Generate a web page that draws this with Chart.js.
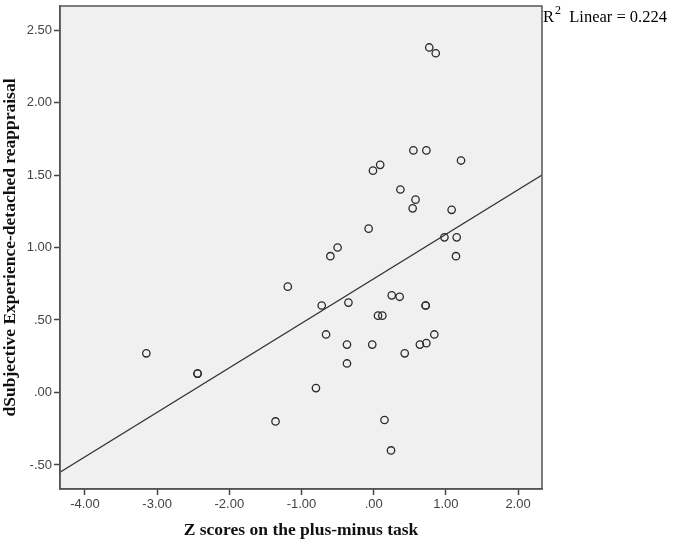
<!DOCTYPE html>
<html>
<head>
<meta charset="utf-8">
<script src="https://cdn.jsdelivr.net/npm/chart.js@4"></script>
<style>
  html, body { margin: 0; padding: 0; background: #fff; }
  #wrap { width: 675px; height: 541px; }
</style>
</head>
<body>
<div id="wrap"><canvas id="c" width="675" height="541"></canvas></div>
<script>
// z scores on the plus-minus task (x) and dSubjective reappraisal (y)
var zScores = [-3.15, -2.44, -2.44, -1.36, -1.19, -0.80, -0.72, -0.66, -0.60, -0.50,
  -0.35, -0.37, -0.37, -0.07, -0.02, -0.01, 0.06, 0.09, 0.12, 0.15,
  0.24, 0.25, 0.36, 0.37, 0.43, 0.54, 0.55, 0.58, 0.64, 0.72,
  0.72, 0.73, 0.73, 0.77, 0.84, 0.86, 0.98, 1.08, 1.14, 1.15, 1.21];
var reappraisal = [0.27, 0.13, 0.13, -0.20, 0.73, 0.03, 0.60, 0.40, 0.94, 1.00,
  0.62, 0.33, 0.20, 1.13, 0.33, 1.53, 0.53, 1.57, 0.53, -0.19,
  -0.40, 0.67, 0.66, 1.40, 0.27, 1.27, 1.67, 1.33, 0.33, 0.60,
  0.60, 0.34, 1.67, 2.38, 0.40, 2.34, 1.07, 1.26, 0.94, 1.07, 1.60];

// fit line end points, read at the plot edges
var fitX = [-4.346, 2.332];
var fitY = [-0.55, 1.50];

var xTicks = [-4, -3, -2, -1, 0, 1, 2];
var yTicks = [-0.5, 0, 0.5, 1, 1.5, 2, 2.5];
var xRange = [-4.346, 2.332];
var yRange = [-0.666, 2.666];

var rSquared = "0.224";

function spssLabel(v) {
  var s = Number(v).toFixed(2);
  return s.replace(/^(-?)0\./, "$1.");
}

/* grey plot area + the box round it */
var plotBox = {
  id: "plotBox",
  beforeDraw: function (chart) {
    var a = chart.chartArea, ctx = chart.ctx;
    ctx.save();
    ctx.fillStyle = "#f0f0f0";
    ctx.fillRect(a.left, a.top, a.right - a.left, a.bottom - a.top);
    ctx.restore();
  },
  afterDraw: function (chart) {
    var a = chart.chartArea, ctx = chart.ctx;
    ctx.save();
    ctx.strokeStyle = "#555";
    ctx.lineWidth = 1.5;
    ctx.strokeRect(a.left, a.top, a.right - a.left, a.bottom - a.top);

    // R2 note at the top right
    var x = a.right + 1, y = 22;
    ctx.fillStyle = "#000";
    ctx.textBaseline = "alphabetic";
    ctx.font = "16.5px 'Liberation Serif'";
    ctx.fillText("R", x, y);
    x += ctx.measureText("R").width + 1;
    ctx.font = "12px 'Liberation Serif'";
    ctx.fillText("2", x, y - 8);
    x += ctx.measureText("2").width;
    ctx.font = "16.5px 'Liberation Serif'";
    ctx.fillText("  Linear = " + rSquared, x, y);
    ctx.restore();
  }
};

var points = zScores.map(function (z, i) { return { x: z, y: reappraisal[i] }; });
var line = fitX.map(function (x, i) { return { x: x, y: fitY[i] }; });

var tickFont = { family: "'Liberation Sans'", size: 13 };

new Chart(document.getElementById("c"), {
  type: "scatter",
  data: {
    datasets: [
      {
        data: points,
        pointStyle: "circle",
        pointRadius: 3.7,
        pointBorderWidth: 1.3,
        pointBorderColor: "#2a2a2a",
        pointBackgroundColor: "rgba(0,0,0,0)"
      },
      {
        type: "line",
        data: line,
        borderColor: "#333",
        borderWidth: 1.3,
        pointRadius: 0,
        fill: false
      }
    ]
  },
  plugins: [plotBox],
  options: {
    responsive: false,
    animation: false,
    layout: { padding: { left: 0, top: 6, right: 133, bottom: 0 } },
    plugins: { legend: { display: false }, tooltip: { enabled: false } },
    scales: {
      x: {
        type: "linear",
        min: xRange[0],
        max: xRange[1],
        afterBuildTicks: function (s) { s.ticks = xTicks.map(function (v) { return { value: v }; }); },
        afterFit: function (s) { s.height = 52; s.paddingLeft = 0; s.paddingRight = 0; },
        grid: { drawOnChartArea: false, drawTicks: true, tickLength: 6, tickColor: "#444", tickWidth: 1.5 },
        border: { display: true, color: "#555", width: 1.5 },
        ticks: { color: "#444", font: tickFont, padding: 2, maxRotation: 0,
          callback: function (v) { return spssLabel(v); } },
        title: { display: true, text: "Z scores on the plus-minus task", color: "#111",
          font: { family: "'Liberation Serif'", size: 17.5, weight: "bold" }, padding: { top: 3, bottom: 0 } }
      },
      y: {
        type: "linear",
        min: yRange[0],
        max: yRange[1],
        afterBuildTicks: function (s) { s.ticks = yTicks.map(function (v) { return { value: v }; }); },
        afterFit: function (s) { s.width = 60; s.paddingTop = 0; s.paddingBottom = 0; },
        grid: { drawOnChartArea: false, drawTicks: true, tickLength: 6, tickColor: "#444", tickWidth: 1.5 },
        border: { display: true, color: "#555", width: 1.5 },
        ticks: { color: "#444", font: tickFont, padding: 2,
          callback: function (v) { return spssLabel(v); } },
        title: { display: true, text: "dSubjective Experience-detached reappraisal", color: "#111",
          font: { family: "'Liberation Serif'", size: 17.5, weight: "bold" }, padding: { top: 0, bottom: 0 } }
      }
    }
  }
});
</script>
</body>
</html>
